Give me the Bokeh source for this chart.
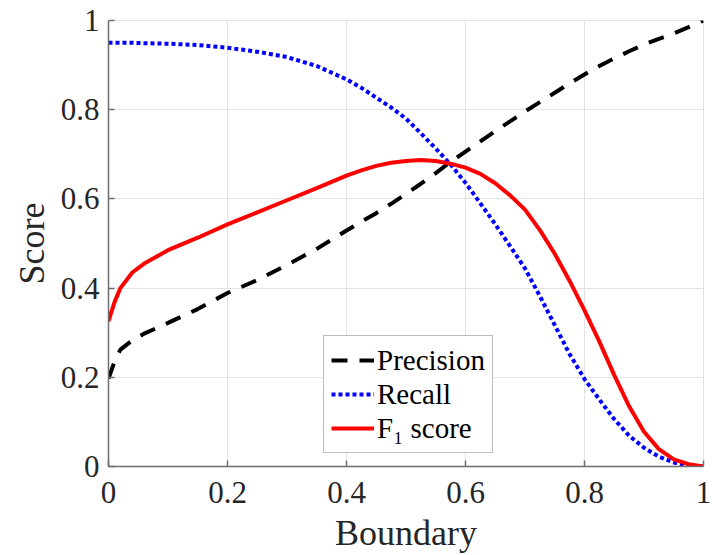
from bokeh.plotting import figure
from bokeh.models import Range1d, FixedTicker, NumeralTickFormatter, Legend, LegendItem
from bokeh.embed import file_html
from bokeh.resources import INLINE

# ---- data ----
boundary = [0.0, 0.01, 0.02, 0.04, 0.06, 0.10, 0.15, 0.20, 0.25, 0.30, 0.35,
            0.400, 0.425, 0.450, 0.475, 0.500, 0.525, 0.550, 0.575, 0.600, 0.625,
            0.650, 0.675, 0.700, 0.725, 0.750, 0.775, 0.800, 0.825, 0.850, 0.875,
            0.900, 0.925, 0.950, 0.975, 1.000]
precision = [0.197, 0.235, 0.262, 0.283, 0.298, 0.322, 0.353, 0.389, 0.418, 0.452, 0.488,
             0.529, 0.549, 0.568, 0.589, 0.611, 0.634, 0.658, 0.683, 0.706, 0.729,
             0.752, 0.774, 0.796, 0.817, 0.838, 0.859, 0.879, 0.898, 0.915, 0.931,
             0.946, 0.959, 0.971, 0.985, 1.000]
recall = [0.950, 0.950, 0.950, 0.950, 0.949, 0.948, 0.945, 0.939, 0.930, 0.918, 0.898,
          0.868, 0.849, 0.827, 0.805, 0.780, 0.747, 0.713, 0.677, 0.636, 0.590,
          0.543, 0.494, 0.444, 0.382, 0.317, 0.252, 0.196, 0.150, 0.106, 0.069,
          0.042, 0.022, 0.009, 0.002, 0.000]
f1_score = [0.326, 0.368, 0.400, 0.435, 0.455, 0.485, 0.513, 0.543, 0.570, 0.597, 0.624,
            0.652, 0.664, 0.674, 0.681, 0.685, 0.687, 0.685, 0.679, 0.670, 0.656,
            0.635, 0.608, 0.576, 0.530, 0.477, 0.416, 0.350, 0.280, 0.205, 0.135,
            0.078, 0.039, 0.016, 0.005, 0.000]
series_labels = ["Precision", "Recall", "F\u2081 score"]
tick_values = [0.0, 0.2, 0.4, 0.6, 0.8, 1.0]

FONT = "Liberation Serif"

p = figure(frame_width=595, frame_height=446,
           min_border_left=108, min_border_right=10, min_border_top=20, min_border_bottom=89,
           x_range=Range1d(0, 1), y_range=Range1d(0, 1),
           output_backend="svg", toolbar_location=None)

r_prec = p.line(boundary, precision, line_color="black", line_width=4, line_dash="16 12")
r_rec = p.line(boundary, recall, line_color="#0000ff", line_width=4, line_dash="4 3")
r_f1 = p.line(boundary, f1_score, line_color="#ff0000", line_width=4)

for ax in (p.xaxis[0], p.yaxis[0]):
    ax.ticker = FixedTicker(ticks=tick_values)
    ax.formatter = NumeralTickFormatter(format="0.[0]")
    ax.major_label_text_font = FONT
    ax.major_label_text_font_size = "31px"
    ax.major_label_text_color = "#262626"
    ax.axis_label_text_font = FONT
    ax.axis_label_text_font_size = "36px"
    ax.axis_label_text_font_style = "normal"
    ax.axis_label_text_color = "#262626"
    ax.major_tick_in = 6
    ax.major_tick_out = 0
    ax.minor_tick_line_color = None
    ax.axis_line_color = "#6e6e6e"
    ax.axis_line_width = 1.5
    ax.major_tick_line_color = "#6e6e6e"
    ax.major_tick_line_width = 1.5

p.xaxis.axis_label = "Boundary"
p.yaxis.axis_label = "Score"
p.xaxis.major_label_standoff = 15
p.yaxis.major_label_standoff = 9
p.xaxis.axis_label_standoff = 7
p.yaxis.axis_label_standoff = 6

p.grid.grid_line_color = "#e3e3e3"
p.grid.grid_line_width = 1
p.outline_line_color = "#e3e3e3"

legend = Legend(items=[LegendItem(label=series_labels[0], renderers=[r_prec]),
                       LegendItem(label=series_labels[1], renderers=[r_rec]),
                       LegendItem(label=series_labels[2], renderers=[r_f1])],
                location=(215, 13), margin=0, padding=7, spacing=0,
                glyph_width=43, glyph_height=34, label_height=34, label_standoff=3,
                label_text_font=FONT, label_text_font_size="29px", label_text_color="black",
                border_line_color="#7a7a7a", border_line_width=1.5,
                background_fill_color="white", background_fill_alpha=1)
p.add_layout(legend, "center")

open("out.html", "w").write(file_html(p, INLINE))
